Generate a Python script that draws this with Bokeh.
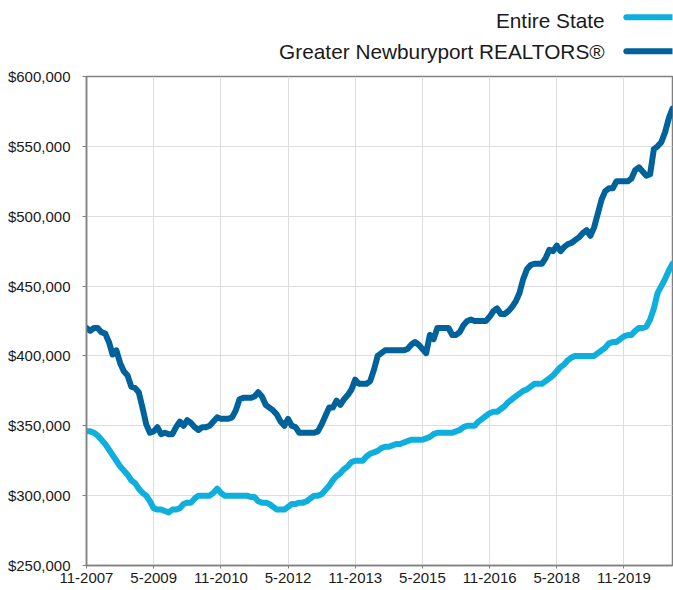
from bokeh.plotting import figure
from bokeh.models import Range1d, FixedTicker, NumeralTickFormatter, ColumnDataSource
from bokeh.layouts import column
from bokeh.core.properties import value
from bokeh.embed import file_html
from bokeh.resources import INLINE

# Monthly median prices, 11-2007 .. 12-2020
tick_labels = ["11-2007", "5-2009", "11-2010", "5-2012", "11-2013",
               "5-2015", "11-2016", "5-2018", "11-2019"]
tick_step_months = 18

entire_state = [
    346000, 346000, 345000, 343000, 340000, 337000, 333000, 329000, 325000, 321000,
    318000, 315000, 311000, 309000, 305000, 302000, 300000, 296000, 291000, 290000,
    290000, 289000, 288000, 290000, 290000, 291000, 294000, 295000, 295000, 298000,
    300000, 300000, 300000, 300000, 302000, 305000, 302000, 300000, 300000, 300000,
    300000, 300000, 300000, 300000, 299000, 299000, 296000, 295000, 295000, 294000,
    292000, 290000, 290000, 290000, 292000, 294000, 294000, 295000, 295000, 296000,
    298000, 300000, 300000, 301000, 304000, 307000, 311000, 314000, 316000, 319000,
    321000, 324000, 325000, 325000, 325000, 328000, 330000, 331000, 332000, 334000,
    335000, 335000, 336000, 337000, 337000, 338000, 339000, 340000, 340000, 340000,
    340000, 341000, 342000, 344000, 345000, 345000, 345000, 345000, 345000, 346000,
    347000, 349000, 350000, 350000, 350000, 353000, 355000, 357000, 359000, 360000,
    360000, 362000, 364000, 367000, 369000, 371000, 373000, 375000, 376000, 378000,
    380000, 380000, 380000, 382000, 384000, 386000, 389000, 392000, 394000, 397000,
    399000, 400000, 400000, 400000, 400000, 400000, 400000, 402000, 404000, 406000,
    409000, 410000, 410000, 412000, 414000, 415000, 415000, 418000, 420000, 420000,
    421000, 426000, 434000, 445000, 450000, 455000, 461000, 466000,
]

newburyport = [
    420000, 418000, 420000, 420000, 417000, 416000, 410000, 401000, 404000, 395000,
    389000, 386000, 378000, 377000, 374000, 363000, 351000, 345000, 346000, 349000,
    344000, 345000, 344000, 344000, 349000, 353000, 350000, 354000, 352000, 349000,
    347000, 349000, 349000, 350000, 353000, 356000, 355000, 355000, 355000, 356000,
    361000, 369000, 370000, 370000, 370000, 371000, 374000, 371000, 365000, 363000,
    361000, 358000, 353000, 350000, 355000, 350000, 349000, 345000, 345000, 345000,
    345000, 345000, 346000, 351000, 357000, 363000, 363000, 368000, 365000, 369000,
    372000, 376000, 383000, 380000, 380000, 380000, 382000, 390000, 400000, 402000,
    404000, 404000, 404000, 404000, 404000, 404000, 405000, 408000, 410000, 408000,
    405000, 402000, 415000, 412000, 420000, 420000, 420000, 420000, 415000, 415000,
    417000, 422000, 425000, 426000, 425000, 425000, 425000, 425000, 428000, 432000,
    434000, 430000, 430000, 432000, 435000, 439000, 445000, 455000, 462000, 465000,
    466000, 466000, 466000, 470000, 476000, 475000, 479000, 475000, 478000, 480000,
    481000, 483000, 485000, 488000, 490000, 486000, 492000, 502000, 512000, 518000,
    520000, 520000, 525000, 525000, 525000, 525000, 527000, 533000, 535000, 532000,
    529000, 530000, 548000, 550000, 553000, 560000, 570000, 577000,
]

series_names = ["Entire State", "Greater Newburyport REALTORS®"]
series_colors = ["#0eafdd", "#00629a"]

FONT = "Liberation Sans"
W = 673
LEG_H = 67

months = list(range(len(entire_state)))
src = ColumnDataSource(dict(m=months, es=entire_state, nb=newburyport))

# ---------- legend strip ----------
leg = figure(width=W, height=LEG_H, output_backend="svg", toolbar_location=None,
             x_range=Range1d(0, W), y_range=Range1d(0, LEG_H),
             min_border=0, min_border_left=0, min_border_right=0,
             min_border_top=0, min_border_bottom=0)
leg.axis.visible = False
leg.grid.visible = False
leg.outline_line_color = None
leg_src = ColumnDataSource(dict(
    tx=[595, 595], ty=[47, 16.2], txt=series_names,
    x0=[620, 620], x1=[720, 720], ly=[50.3, 16.3], c=series_colors))
leg.text(x="tx", y="ty", text="txt", source=leg_src, text_align="right",
         text_baseline="middle", text_font=value(FONT), text_font_size="20.8px",
         text_color="#1a1a1a")
leg.segment(x0="x0", y0="ly", x1="x1", y1="ly", color="c", source=leg_src,
            line_width=6, line_cap="round")

# ---------- main chart ----------
p = figure(width=W, height=590 - LEG_H, output_backend="svg", toolbar_location=None,
           x_range=Range1d(0, len(months) - 1), y_range=Range1d(250000, 600000),
           min_border_left=86, min_border_right=1, min_border_top=9,
           min_border_bottom=25)

p.line("m", "es", source=src, color=series_colors[0], line_width=6,
       line_join="round", line_cap="round")
p.line("m", "nb", source=src, color=series_colors[1], line_width=6,
       line_join="round", line_cap="round")

ticks = [i * tick_step_months for i in range(len(tick_labels))]
p.xaxis.ticker = FixedTicker(ticks=ticks)
p.xaxis.major_label_overrides = {t: lab for t, lab in zip(ticks, tick_labels)}
p.yaxis.ticker = FixedTicker(ticks=list(range(250000, 600001, 50000)))
p.yaxis.formatter = NumeralTickFormatter(format="$0,0")

for ax in (p.xaxis, p.yaxis):
    ax.axis_line_color = "#808080"
    ax.axis_line_width = 1.5
    ax.major_tick_line_color = "#808080"
    ax.major_tick_out = 4
    ax.major_tick_in = 0
    ax.minor_tick_line_color = None
    ax.major_label_text_font = FONT
    ax.major_label_text_font_size = "15px"
    ax.major_label_text_color = "#1a1a1a"
p.xaxis.major_tick_out = 3
p.xaxis.major_label_standoff = 4
p.yaxis.major_label_standoff = 12

p.grid.grid_line_color = "#dddddd"
p.grid.grid_line_width = 1
p.outline_line_color = "#808080"
p.outline_line_width = 1.5

layout = column(leg, p, spacing=0)
open("out.html", "w").write(file_html(layout, INLINE))
